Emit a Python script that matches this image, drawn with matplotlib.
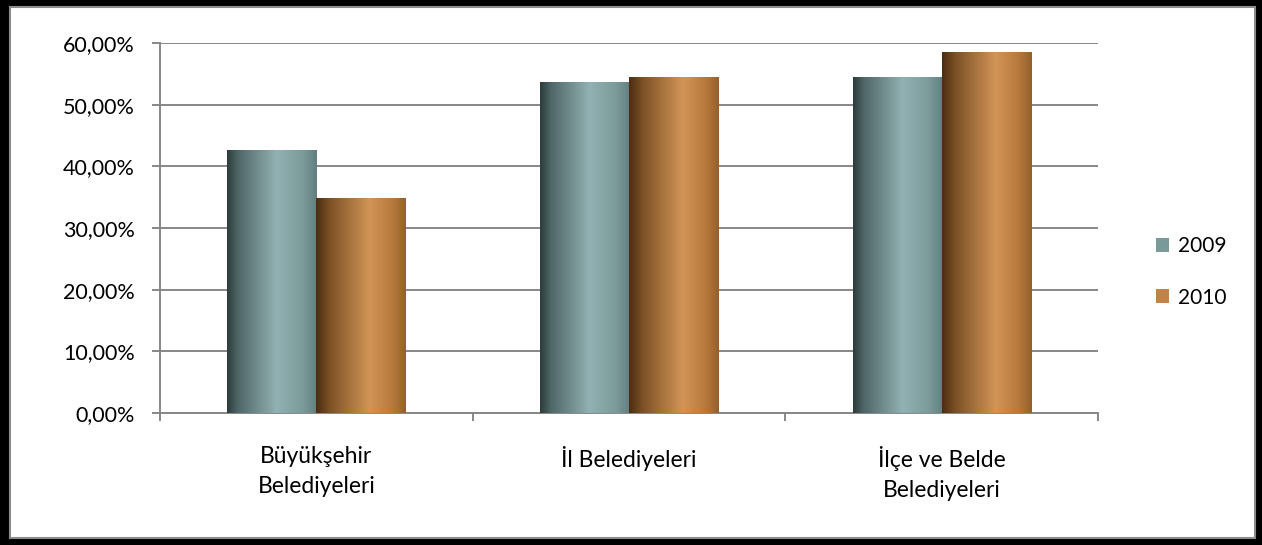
import matplotlib.pyplot as plt
import numpy as np
from matplotlib.colors import LinearSegmentedColormap
from matplotlib.patches import Rectangle, Patch
from matplotlib.ticker import FuncFormatter

categories = ["Büyükşehir\nBelediyeleri", "İl Belediyeleri", "İlçe ve Belde\nBelediyeleri"]
series_names = ["2009", "2010"]
values_2009 = [42.7, 53.7, 54.5]
values_2010 = [34.9, 54.5, 58.5]

plt.rcParams["font.family"] = ["Lato", "DejaVu Sans"]
plt.rcParams["font.size"] = 15

GRID = "#878787"
legend_colors = ["#7a9a9a", "#c0834a"]
cmaps = [
    LinearSegmentedColormap.from_list("teal", [(0, "#2c3b3b"), (0.12, "#4f6667"), (0.55, "#92b1b2"),
                                               (0.85, "#7b9a9a"), (1, "#647e7e")]),
    LinearSegmentedColormap.from_list("orange", [(0, "#4a2d12"), (0.15, "#7c5125"), (0.6, "#d29557"),
                                                 (0.85, "#b87a3c"), (1, "#94602e")]),
]

fig = plt.figure(figsize=(12.62, 5.45), dpi=100)
# outer frame: black band with thin gray line inside
fig.patches.append(Rectangle((0, 0), 1, 1, transform=fig.transFigure, facecolor="black", zorder=-10))
fig.patches.append(Rectangle((10 / 1262, 7 / 545), 1 - 17 / 1262, 1 - 14 / 545, transform=fig.transFigure,
                             facecolor="white", edgecolor="#8c8c8c", linewidth=1.5, zorder=-9))

ax = fig.add_axes([160 / 1262, 1 - 413 / 545, 938 / 1262, 370 / 545])
ax.set_facecolor("none")

x = np.arange(len(categories))
w = 0.285
gradient = np.linspace(0, 1, 256).reshape(1, -1)
for i, vals in enumerate([values_2009, values_2010]):
    bars = ax.bar(x + (i - 0.5) * w, vals, w, color=legend_colors[i], zorder=3, linewidth=0)
    for b in bars:
        im = ax.imshow(gradient, cmap=cmaps[i], aspect="auto", zorder=3.5,
                       extent=[b.get_x(), b.get_x() + b.get_width(), 0, b.get_height()])
        im.set_clip_path(b)

ax.set_xlim(-0.5, 2.5)
ax.set_ylim(0, 60)
ax.set_yticks(np.arange(0, 61, 10))
ax.yaxis.set_major_formatter(FuncFormatter(lambda v, _: f"{v:.2f}%".replace(".", ",")))
ax.grid(axis="y", color=GRID, linewidth=1.4, zorder=0)
ax.set_axisbelow(True)

ax.set_xticks(x)
ax.set_xticklabels(categories, linespacing=1.5, fontsize=16.5)
ax.set_xticks([-0.5, 0.5, 1.5, 2.5], minor=True)
ax.tick_params(axis="x", which="major", length=0, pad=24)
ax.tick_params(axis="x", which="minor", length=6, width=1.4, color=GRID, direction="out")
ax.tick_params(axis="y", length=6, width=1.4, color=GRID, pad=12, labelsize=15.5)

for s in ["top", "right"]:
    ax.spines[s].set_visible(False)
for s in ["left", "bottom"]:
    ax.spines[s].set_color(GRID)
    ax.spines[s].set_linewidth(1.4)

handles = [Patch(facecolor=c, edgecolor="none") for c in legend_colors]
fig.legend(handles, series_names, loc="center left", bbox_to_anchor=(1137 / 1262, 1 - 272 / 545),
           frameon=False, handlelength=0.65, handleheight=0.65, handletextpad=0.4, labelspacing=1.5,
           fontsize=15)

fig.savefig("out.png", dpi=100)
